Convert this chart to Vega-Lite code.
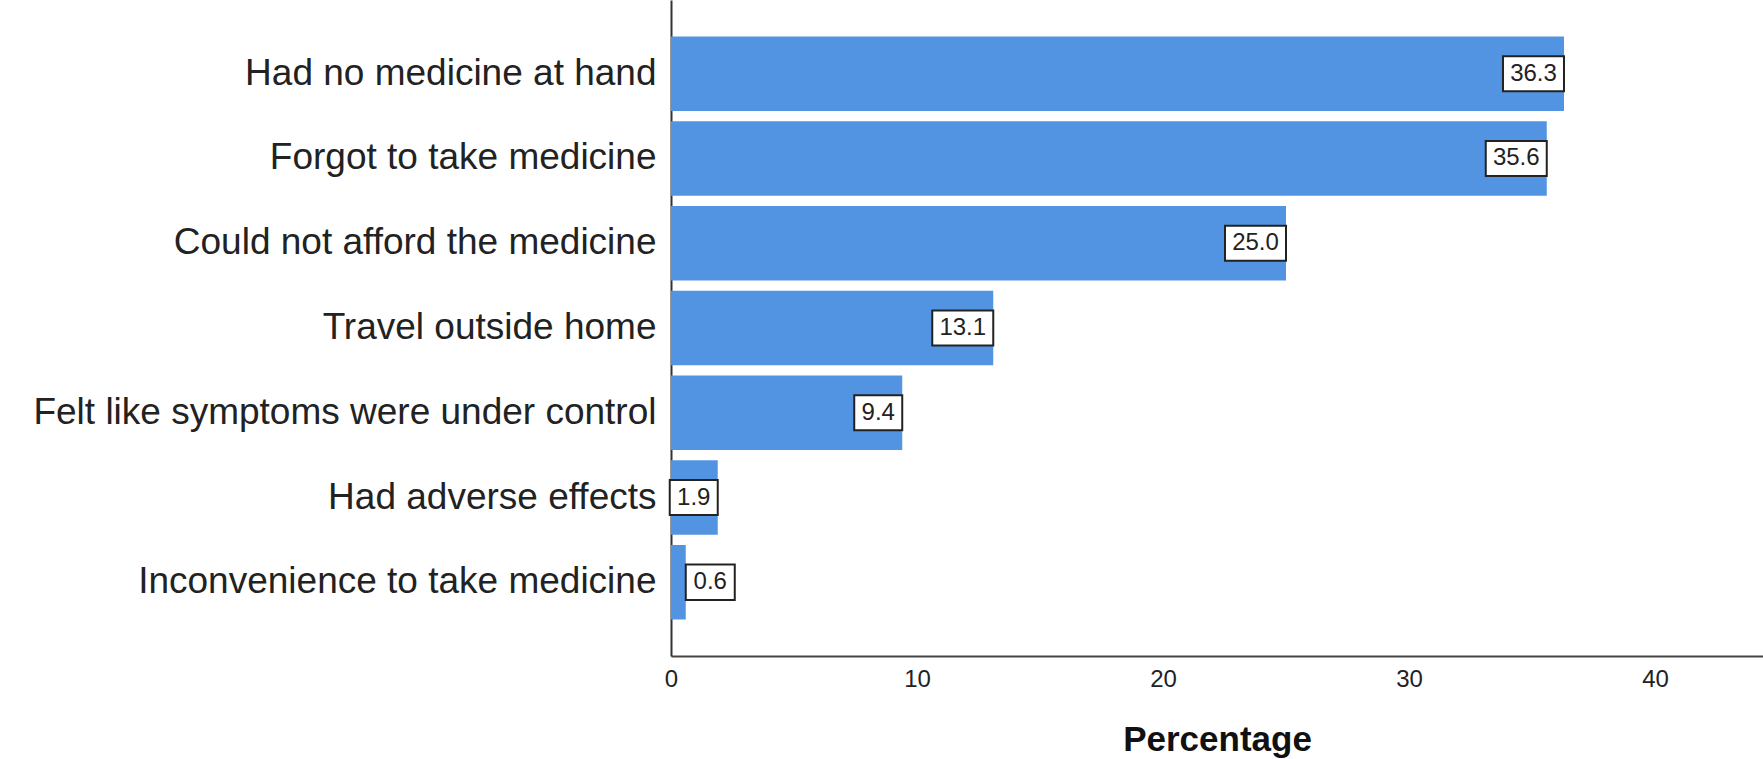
{
  "$schema": "https://vega.github.io/schema/vega-lite/v6.json",
  "width": 1092,
  "height": 656,
  "autosize": {"type": "none"},
  "padding": {"left": 671, "top": 0, "right": 0, "bottom": 103},
  "background": "white",
  "config": {
    "view": {"stroke": null},
    "font": "Liberation Sans"
  },
  "data": {
    "values": [
      {"reason": "Had no medicine at hand", "pct": 36.3},
      {"reason": "Forgot to take medicine", "pct": 35.6},
      {"reason": "Could not afford the medicine", "pct": 25.0},
      {"reason": "Travel outside home", "pct": 13.1},
      {"reason": "Felt like symptoms were under control", "pct": 9.4},
      {"reason": "Had adverse effects", "pct": 1.9},
      {"reason": "Inconvenience to take medicine", "pct": 0.6}
    ]
  },
  "encoding": {
    "y": {
      "field": "reason",
      "type": "nominal",
      "sort": null,
      "scale": {"paddingInner": 0.12, "paddingOuter": 0.43},
      "axis": {
        "title": null,
        "domain": true,
        "domainColor": "#333333",
        "domainWidth": 2,
        "ticks": false,
        "labelFontSize": 37,
        "labelColor": "#222222",
        "labelPadding": 15,
        "labelLimit": 0
      }
    },
    "x": {
      "field": "pct",
      "type": "quantitative",
      "scale": {"domain": [0, 44.39], "nice": false},
      "axis": {
        "values": [0, 10, 20, 30, 40],
        "grid": false,
        "domain": true,
        "domainColor": "#444444",
        "domainWidth": 2,
        "ticks": false,
        "tickSize": 0,
        "labelFlush": false,
        "labelFontSize": 24,
        "labelColor": "#222222",
        "labelPadding": 11,
        "title": "Percentage",
        "titleFontSize": 35,
        "titleFontWeight": "bold",
        "titleColor": "#111111",
        "titleBaseline": "alphabetic",
        "titleY": 94
      }
    }
  },
  "layer": [
    {"mark": {"type": "bar", "color": "#5294e2"}},
    {
      "transform": [{"filter": "datum.pct >= 10"}],
      "layer": [
        {
          "mark": {"type": "point", "shape": "M-2,-0.574H0V0.574H-2Z", "size": 3721, "filled": false, "fill": "white", "fillOpacity": 1, "stroke": "#222222", "strokeWidth": 2, "opacity": 1}
        },
        {
          "mark": {"type": "text", "fontSize": 24, "color": "#222222", "dx": -30.5, "align": "center", "baseline": "middle"},
          "encoding": {"text": {"field": "pct", "type": "quantitative", "format": ".1f"}}
        }
      ]
    },
    {
      "transform": [{"filter": "datum.pct >= 1 && datum.pct < 10"}],
      "layer": [
        {
          "mark": {"type": "point", "shape": "M-2,-0.729H0V0.729H-2Z", "size": 2304, "filled": false, "fill": "white", "fillOpacity": 1, "stroke": "#222222", "strokeWidth": 2, "opacity": 1}
        },
        {
          "mark": {"type": "text", "fontSize": 24, "color": "#222222", "dx": -24, "align": "center", "baseline": "middle"},
          "encoding": {"text": {"field": "pct", "type": "quantitative", "format": ".1f"}}
        }
      ]
    },
    {
      "transform": [{"filter": "datum.pct < 1"}],
      "layer": [
        {
          "mark": {"type": "point", "shape": "M0,-0.729H2V0.729H0Z", "size": 2401, "filled": false, "fill": "white", "fillOpacity": 1, "stroke": "#222222", "strokeWidth": 2, "opacity": 1}
        },
        {
          "mark": {"type": "text", "fontSize": 24, "color": "#222222", "dx": 24.5, "align": "center", "baseline": "middle"},
          "encoding": {"text": {"field": "pct", "type": "quantitative", "format": ".1f"}}
        }
      ]
    }
  ]
}
